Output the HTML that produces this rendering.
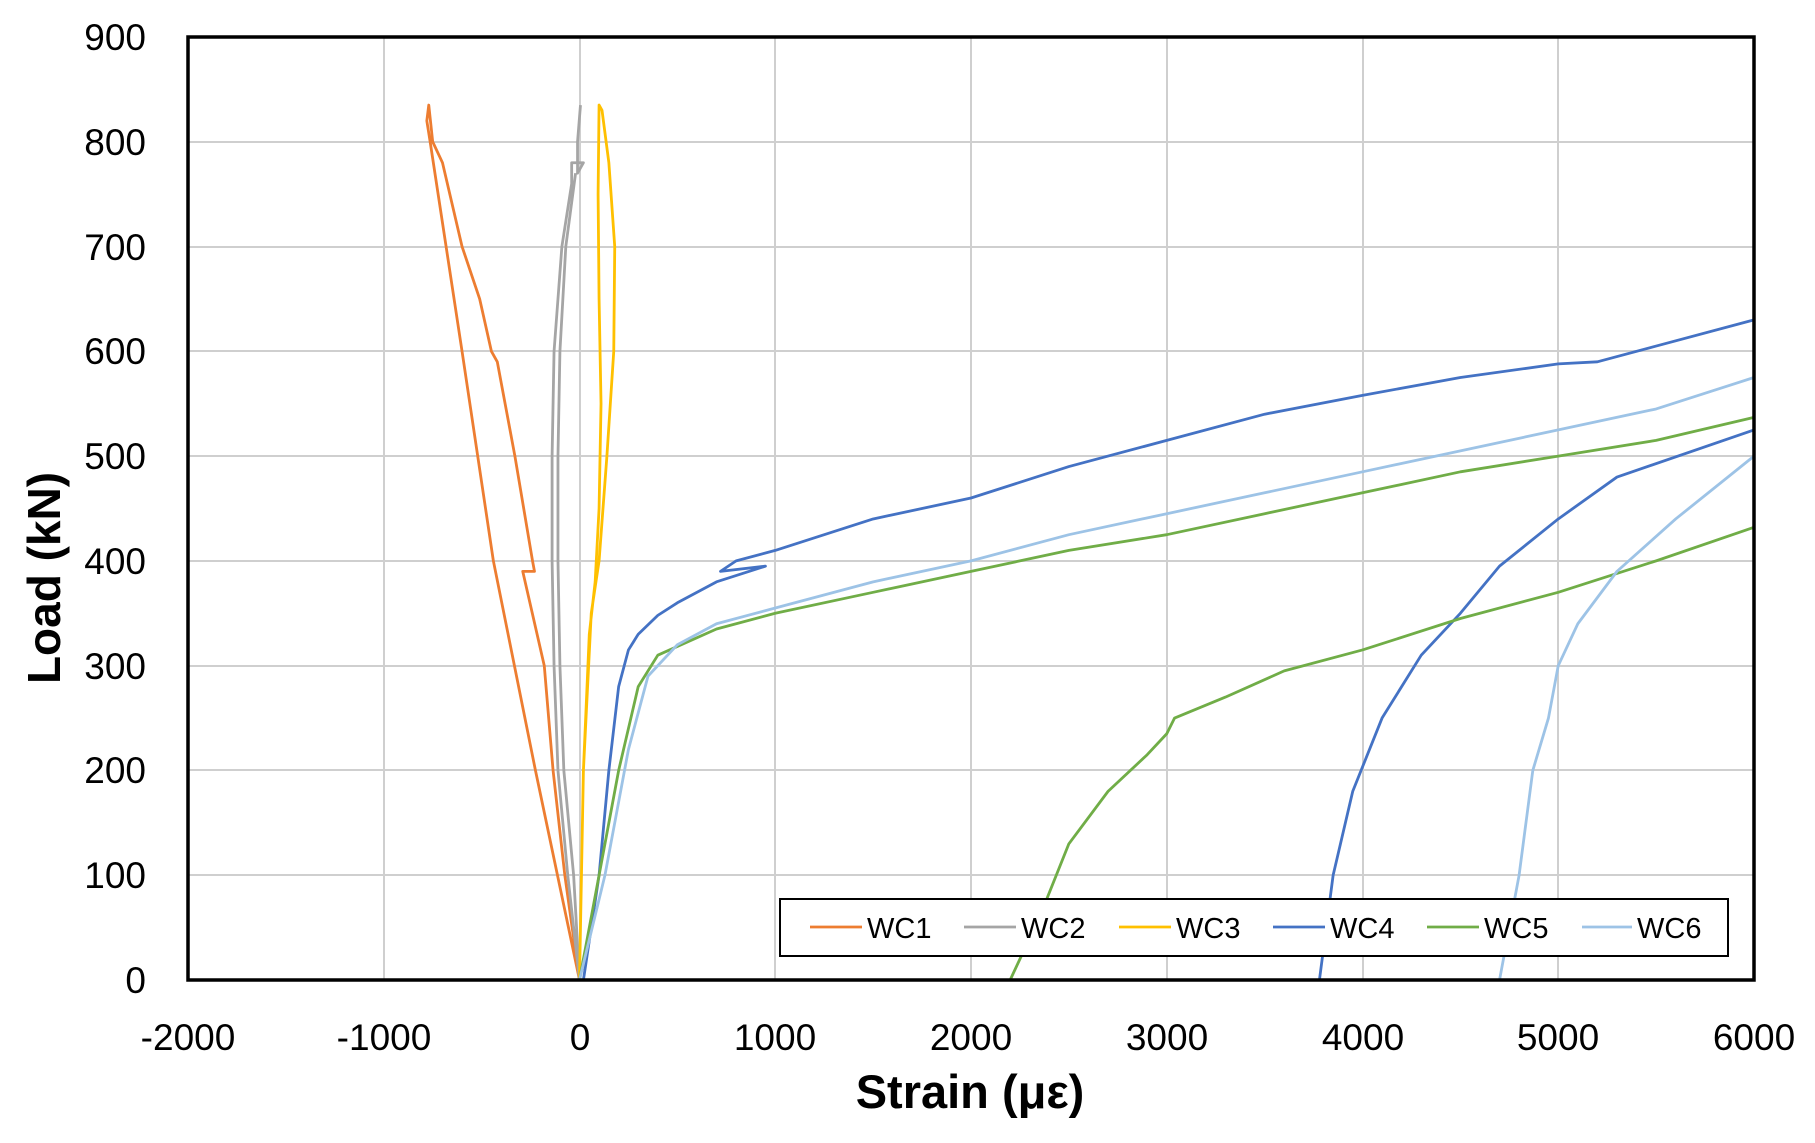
<!DOCTYPE html>
<html><head><meta charset="utf-8"><style>
html,body{margin:0;padding:0;background:#fff;}
svg{display:block;}
text{font-family:"Liberation Sans",sans-serif;fill:#000;}
</style></head><body>
<svg width="1815" height="1143" viewBox="0 0 1815 1143" xmlns="http://www.w3.org/2000/svg">
<g stroke="#cfcfcf" stroke-width="2">
<line x1="384" y1="37" x2="384" y2="980"/><line x1="580" y1="37" x2="580" y2="980"/>
<line x1="775" y1="37" x2="775" y2="980"/><line x1="971" y1="37" x2="971" y2="980"/>
<line x1="1167" y1="37" x2="1167" y2="980"/><line x1="1363" y1="37" x2="1363" y2="980"/>
<line x1="1558" y1="37" x2="1558" y2="980"/>
<line x1="188" y1="875" x2="1754" y2="875"/><line x1="188" y1="770" x2="1754" y2="770"/>
<line x1="188" y1="666" x2="1754" y2="666"/><line x1="188" y1="561" x2="1754" y2="561"/>
<line x1="188" y1="456" x2="1754" y2="456"/><line x1="188" y1="351" x2="1754" y2="351"/>
<line x1="188" y1="247" x2="1754" y2="247"/><line x1="188" y1="142" x2="1754" y2="142"/>
</g>
<g transform="translate(188,980) scale(0.19575,-1.0478) translate(2000,0)" fill="none" stroke-width="2.8" stroke-linejoin="round">
<path vector-effect="non-scaling-stroke" stroke="#ED7D31" d="M0,0 L-225,200 L-440,400 L-600,600 L-763,800 L-780,820 L-770,835 L-750,800 L-700,780 L-600,700 L-510,650 L-450,600 L-420,590 L-330,500 L-240,400 L-230,390 L-290,390 L-180,300 L-135,200 L-75,100 L0,0"/>
<path vector-effect="non-scaling-stroke" stroke="#A5A5A5" d="M0,0 L-60,100 L-110,200 L-130,300 L-140,400 L-140,500 L-130,600 L-90,700 L-40,760 L-40,780 L20,780 L-10,770 L-10,800 L5,835 M0,0 L-30,100 L-80,200 L-100,300 L-110,400 L-110,500 L-100,600 L-70,700 L-20,770"/>
<path vector-effect="non-scaling-stroke" stroke="#FFC000" d="M0,0 L20,200 L50,330 L80,380 L100,450 L110,550 L100,650 L95,750 L100,835 L115,830 L150,780 L180,700 L175,600 L140,500 L100,400 L60,350 L20,200 L0,0"/>
<path vector-effect="non-scaling-stroke" stroke="#4472C4" d="M20,0 L60,50 L100,100 L150,200 L200,280 L250,315 L300,330 L400,348 L500,360 L700,380 L950,395 L720,390 L800,400 L1000,410 L1500,440 L2000,460 L2500,490 L3000,515 L3500,540 L4000,558 L4500,575 L5000,588 L5200,590 L5500,605 L6000,630 M3780,0 L3850,100 L3950,180 L4100,250 L4300,310 L4500,350 L4700,395 L5000,440 L5300,480 L6000,525"/>
<path vector-effect="non-scaling-stroke" stroke="#70AD47" d="M0,0 L100,100 L200,200 L300,280 L400,310 L700,335 L1000,350 L1500,370 L2000,390 L2500,410 L3000,425 L3500,445 L4000,465 L4500,485 L5000,500 L5500,515 L6000,537 M2200,0 L2350,60 L2500,130 L2700,180 L2900,215 L3000,235 L3040,250 L3300,270 L3600,295 L4000,315 L4500,345 L5000,370 L5500,400 L6000,432"/>
<path vector-effect="non-scaling-stroke" stroke="#9DC3E6" d="M0,0 L130,100 L250,220 L350,290 L500,320 L700,340 L1000,355 L1500,380 L2000,400 L2500,425 L3000,445 L3500,465 L4000,485 L4500,505 L5000,525 L5500,545 L6000,575 M4700,0 L4800,100 L4870,200 L4950,250 L5000,300 L5100,340 L5300,390 L5600,440 L6000,500"/>
</g>
<rect x="188" y="37" width="1566" height="943" fill="none" stroke="#000" stroke-width="3.5"/>
<rect x="780" y="899" width="948" height="57" fill="#fff" stroke="#000" stroke-width="2"/>
<g stroke-width="2.8">
<line x1="810" y1="927" x2="862" y2="927" stroke="#ED7D31"/>
<line x1="964" y1="927" x2="1016" y2="927" stroke="#A5A5A5"/>
<line x1="1119" y1="927" x2="1171" y2="927" stroke="#FFC000"/>
<line x1="1273" y1="927" x2="1325" y2="927" stroke="#4472C4"/>
<line x1="1427" y1="927" x2="1479" y2="927" stroke="#70AD47"/>
<line x1="1582" y1="927" x2="1632" y2="927" stroke="#9DC3E6"/>
</g>
<g font-size="29">
<text x="867" y="938">WC1</text><text x="1021" y="938">WC2</text><text x="1176" y="938">WC3</text>
<text x="1330" y="938">WC4</text><text x="1484" y="938">WC5</text><text x="1637" y="938">WC6</text>
</g>
<g font-size="37" text-anchor="end">
<text x="146" y="993">0</text><text x="146" y="888">100</text><text x="146" y="783">200</text>
<text x="146" y="679">300</text><text x="146" y="574">400</text><text x="146" y="469">500</text>
<text x="146" y="364">600</text><text x="146" y="260">700</text><text x="146" y="155">800</text>
<text x="146" y="50">900</text>
</g>
<g font-size="37" text-anchor="middle">
<text x="188" y="1050">-2000</text><text x="384" y="1050">-1000</text><text x="580" y="1050">0</text>
<text x="775" y="1050">1000</text><text x="971" y="1050">2000</text><text x="1167" y="1050">3000</text>
<text x="1363" y="1050">4000</text><text x="1558" y="1050">5000</text><text x="1754" y="1050">6000</text>
</g>
<text x="970" y="1108" font-size="47" font-weight="bold" text-anchor="middle">Strain (με)</text>
<text transform="translate(60,578) rotate(-90)" font-size="46" font-weight="bold" text-anchor="middle">Load (kN)</text>
</svg>
</body></html>
